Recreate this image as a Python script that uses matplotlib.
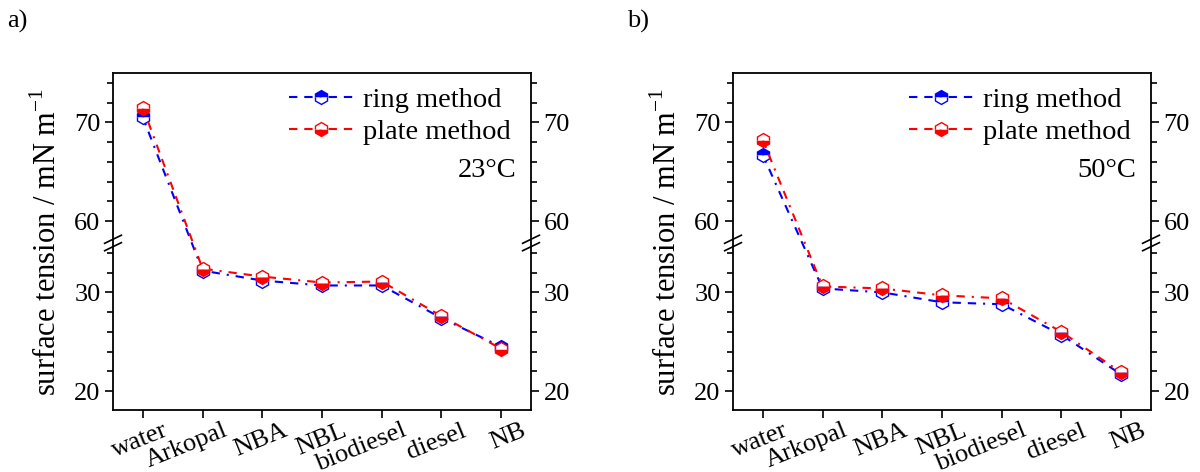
import numpy as np
import matplotlib
matplotlib.use("Agg")
import matplotlib.pyplot as plt
from matplotlib.ticker import FixedLocator
from matplotlib.lines import Line2D
from matplotlib.transforms import ScaledTranslation

plt.rcParams["font.family"] = ["Liberation Serif", "DejaVu Serif"]
plt.rcParams["mathtext.fontset"] = "custom"
plt.rcParams["mathtext.rm"] = "Liberation Serif"
plt.rcParams["lines.scale_dashes"] = False

liquids = ["water", "Arkopal", "NBA", "NBL", "biodiesel", "diesel", "NB"]

ring_23 = [70.5, 32.2, 31.2, 30.7, 30.7, 27.4, 24.5]
plate_23 = [71.5, 32.4, 31.6, 31.0, 31.1, 27.6, 24.3]
ring_50 = [66.7, 30.4, 30.0, 29.0, 28.8, 25.7, 21.7]
plate_50 = [68.2, 30.6, 30.4, 29.7, 29.4, 26.0, 21.9]
err = [0.4, 0.4, 0.4, 0.4, 0.4, 0.4, 0.4]

panels = [("a)", "23°C", ring_23, plate_23), ("b)", "50°C", ring_50, plate_50)]

BRK_LO, BRK_HI = 35.0, 57.8
SHIFT = BRK_HI - BRK_LO


def fwd(y):
    y = np.asarray(y, dtype=float)
    return np.where(y > BRK_LO, np.maximum(y - SHIFT, BRK_LO), y)


def inv(t):
    t = np.asarray(t, dtype=float)
    return np.where(t > BRK_LO, t + SHIFT, t)


dash = (0, (6, 5, 6, 5, 1.5, 5))
styles = {
    "ring method": dict(color="blue", fillstyle="top", mfc="blue", mec="blue"),
    "plate method": dict(color="red", fillstyle="bottom", mfc="red", mec="red"),
}

fig = plt.figure(figsize=(12, 4.72), dpi=100)
lefts = [113 / 1200, 733 / 1200]
for (tag, temp, ring, plate), left in zip(panels, lefts):
    ax = fig.add_axes([left, 1 - 410 / 472, 418 / 1200, 337 / 472])
    x = np.arange(len(liquids))
    handles = []
    for name, vals in (("ring method", ring), ("plate method", plate)):
        st = styles[name]
        ax.errorbar(x, vals, yerr=err, ls=dash, lw=1.5, marker="h", ms=10,
                    mfcalt="white", mew=1, capsize=2.5, elinewidth=0.8, capthick=0.8, **st)
        handles.append(Line2D([], [], ls=dash, lw=1.5, marker="h", ms=10,
                              mfcalt="white", mew=1, label=name, **st))

    ax.set_yscale("function", functions=(fwd, inv))
    ax.set_ylim(18.1, 75)
    ax.set_xlim(-0.5, 6.5)
    ax.yaxis.set_major_locator(FixedLocator([20, 30, 60, 70]))
    ax.yaxis.set_minor_locator(FixedLocator([22, 24, 26, 28, 32, 34, 62, 64, 66, 68, 72, 74]))
    ax.yaxis.set_major_formatter(matplotlib.ticker.FormatStrFormatter("%d"))
    ax.yaxis.set_minor_formatter(matplotlib.ticker.NullFormatter())
    ax.tick_params(axis="y", which="both", direction="out", right=True, labelright=True,
                   labelsize=19, width=1.2, pad=3)
    ax.tick_params(axis="y", which="major", length=6)
    ax.tick_params(axis="y", which="minor", length=4)
    ax.tick_params(axis="x", direction="out", length=6, width=1.2, labelsize=19, pad=1)
    for s in ax.spines.values():
        s.set_linewidth(1.3)

    ax.set_xticks(x)
    ax.set_xticklabels(liquids, rotation=22, ha="right", rotation_mode="anchor")
    off = ScaledTranslation(20 / 100, 0, fig.dpi_scale_trans)
    for lbl in ax.get_xticklabels():
        lbl.set_transform(lbl.get_transform() + off)

    ax.set_ylabel("surface tension / mN m$^{-1}$", fontsize=22, labelpad=8)

    # break marks on both vertical spines
    yb = float((BRK_LO - 18.1) / (75 - SHIFT - 18.1))
    for xs in (0.0, 1.0):
        for dy in (-0.011, 0.011):
            ax.plot([xs - 0.02, xs + 0.02], [yb + dy - 0.012, yb + dy + 0.012],
                    transform=ax.transAxes, color="black", lw=1.2, clip_on=False)

    ax.legend(handles=handles, loc="upper right", frameon=False, fontsize=20.5,
              handlelength=2.3, borderaxespad=0.1, labelspacing=0.2, handletextpad=0.3,
              bbox_to_anchor=(0.985, 1.0))
    ax.text(0.965, 0.71, temp, transform=ax.transAxes, ha="right", va="center", fontsize=20.5)
    fig.text(left - 106 / 1200, 0.955, tag, fontsize=19, ha="left", va="center")

plt.savefig("out.png", dpi=100)
